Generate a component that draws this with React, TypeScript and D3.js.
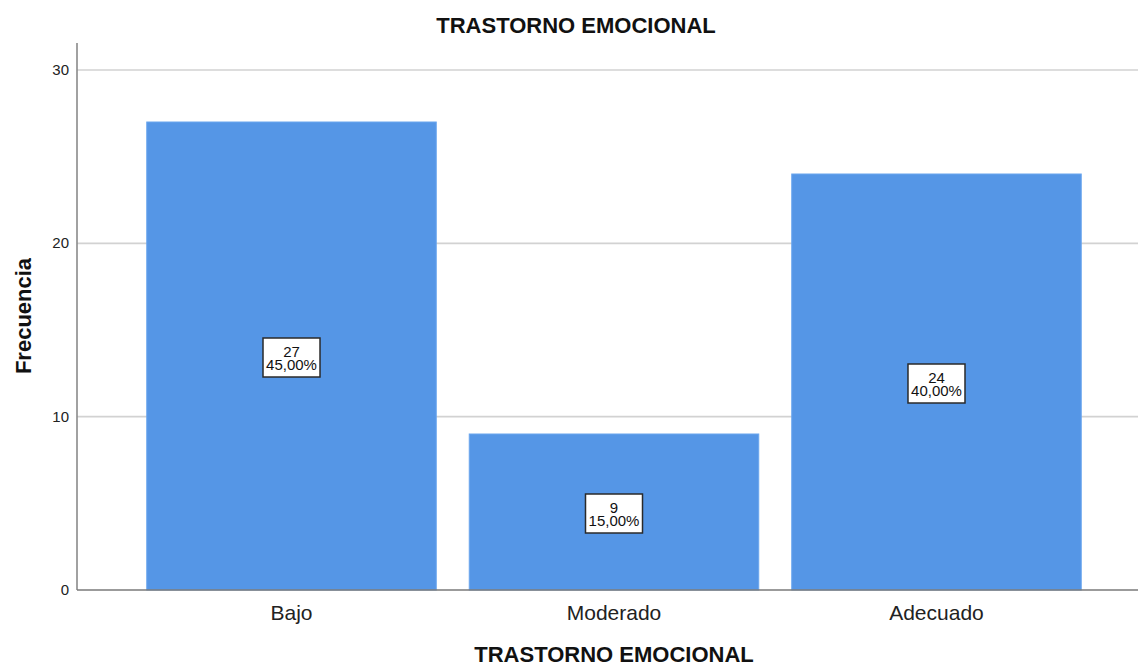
import React from "react";
import * as d3 from "d3";

// Frequency table for "TRASTORNO EMOCIONAL"
const categories = ["Bajo", "Moderado", "Adecuado"];
const counts = [27, 9, 24];
const percents = ["45,00%", "15,00%", "40,00%"];
const yTicks = [0, 10, 20, 30];

const W = 1138;
const H = 665;
const FONT = "'Liberation Sans', Arial, Helvetica, sans-serif";
const BAR = "#5596e6";

export default function App() {
  const left = 77;
  const bottom = 590;
  const top = 70;
  const axisTop = 43;

  const x = d3
    .scaleBand<string>()
    .domain(categories)
    .range([left, 1151])
    .paddingInner(0.1023)
    .paddingOuter(0.2163);

  const y = d3.scaleLinear().domain([0, 30]).range([bottom, top]);

  return (
    <svg
      width={W}
      height={H}
      style={{ position: "absolute", left: 0, top: 0, background: "#fff" }}
      fontFamily={FONT}
    >
      <rect width={W} height={H} fill="#fff" />
      {/* horizontal gridlines */}
      {yTicks
        .filter((t) => t > 0)
        .map((t) => (
          <line
            key={"g" + t}
            x1={left}
            x2={W}
            y1={y(t)}
            y2={y(t)}
            stroke="#d2d2d2"
            strokeWidth={1.6}
          />
        ))}
      {/* bars */}
      {categories.map((c, i) => (
        <rect
          key={c}
          x={x(c)!}
          y={y(counts[i])}
          width={x.bandwidth()}
          height={bottom - y(counts[i])}
          fill={BAR}
          stroke="#6aa6ee"
          strokeWidth={1}
        />
      ))}
      {/* axes */}
      <line x1={left} x2={left} y1={axisTop} y2={bottom} stroke="#8a8a8a" strokeWidth={1.6} />
      <line x1={left} x2={W} y1={bottom} y2={bottom} stroke="#7a7a7a" strokeWidth={1.6} />
      {yTicks.map((t) => (
        <text
          key={"t" + t}
          x={left - 8}
          y={y(t) + 1}
          textAnchor="end"
          dominantBaseline="middle"
          fontSize={15}
          fill="#222"
        >
          {t}
        </text>
      ))}
      {categories.map((c) => (
        <text
          key={"x" + c}
          x={x(c)! + x.bandwidth() / 2}
          y={620}
          textAnchor="middle"
          fontSize={21}
          fill="#222"
        >
          {c}
        </text>
      ))}
      {/* value labels */}
      {categories.map((c, i) => {
        const cx = x(c)! + x.bandwidth() / 2;
        const cy = (y(counts[i]) + bottom) / 2 + 1.5;
        return (
          <g key={"l" + c}>
            <rect
              x={cx - 28.5}
              y={cy - 19.5}
              width={57}
              height={39}
              fill="#fff"
              stroke="#2a2a2a"
              strokeWidth={1.5}
            />
            <text textAnchor="middle" fontSize={15} fill="#111">
              <tspan x={cx} y={cy - 0.5}>
                {counts[i]}
              </tspan>
              <tspan x={cx} y={cy + 12.5}>
                {percents[i]}
              </tspan>
            </text>
          </g>
        );
      })}
      {/* titles */}
      <text x={576} y={33} textAnchor="middle" fontSize={22} fontWeight="bold" fill="#111">
        TRASTORNO EMOCIONAL
      </text>
      <text x={614} y={662} textAnchor="middle" fontSize={22} fontWeight="bold" fill="#111">
        TRASTORNO EMOCIONAL
      </text>
      <text
        transform="translate(31,316) rotate(-90)"
        textAnchor="middle"
        fontSize={22}
        fontWeight="bold"
        fill="#111"
      >
        Frecuencia
      </text>
    </svg>
  );
}
